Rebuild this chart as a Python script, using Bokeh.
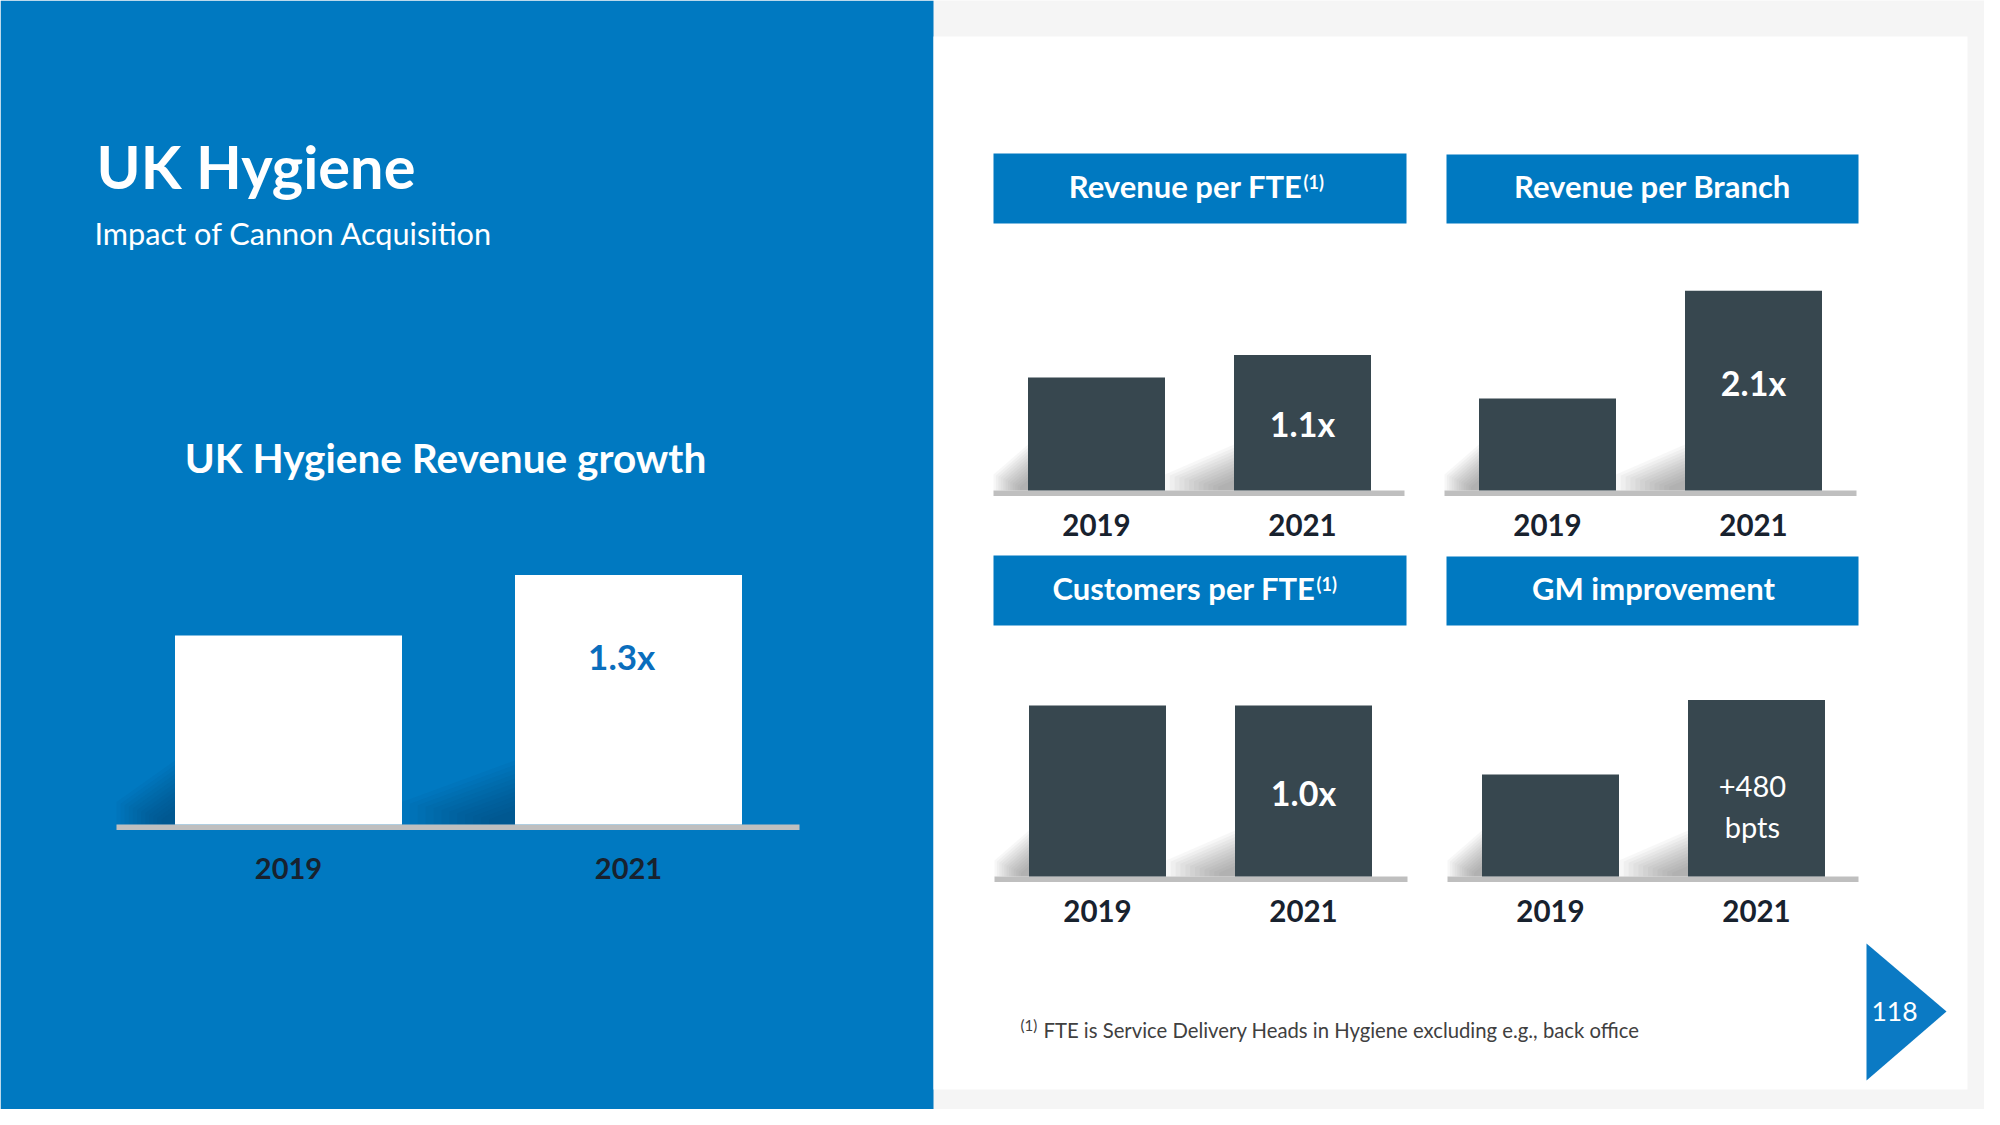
from bokeh.plotting import figure
from bokeh.models import Range1d
from bokeh.embed import file_html
from bokeh.resources import INLINE
from bokeh.core.properties import value

# ---------------- data ----------------
years = ["2019", "2021"]
uk_revenue_index = [100, 132]
rev_per_fte_index = [100, 120]
rev_per_branch_index = [100, 217]
cust_per_fte_index = [100, 100]
gm_index = [100, 173]

uk_label = "1.3x"
rev_fte_label = "1.1x"
rev_branch_label = "2.1x"
cust_fte_label = "1.0x"
gm_label_lines = ["+480", "bpts"]

title = "UK Hygiene"
subtitle = "Impact of Cannon Acquisition"
left_chart_title = "UK Hygiene Revenue growth"
panel_titles = ["Revenue per FTE", "Revenue per Branch", "Customers per FTE", "GM improvement"]
footnote = "FTE is Service Delivery Heads in Hygiene excluding e.g., back office"
page_number = "118"

# ---------------- style ----------------
BLUE = "#0079C1"
BAR_DARK = "#37474F"
BASE_GRAY = "#BFBFBF"
YEAR_COLOR = "#18222E"
FONT = value("Lato")
BASE_SHIFT = 0.38  # alphabetic baseline correction (fraction of font size)

# page frame (page coordinates, y downwards)
X0, X1, Y0, Y1 = 0, 1984, 0, 1109

p = figure(width=1984, height=1109, x_range=Range1d(X0, X1), y_range=Range1d(Y1, Y0),
           output_backend="svg", toolbar_location=None, min_border=0,
           x_axis_location=None, y_axis_location=None)
p.grid.visible = False
p.outline_line_color = None
p.background_fill_color = "#F5F5F5"
p.border_fill_color = "#F5F5F5"

# backgrounds
p.quad(left=[0], right=[933], top=[0], bottom=[1125], fill_color=BLUE, line_color=None)
p.quad(left=[933], right=[1967], top=[36], bottom=[1089], fill_color="white", line_color=None)


def txt(x, y, s, size, color, bold=False, align="left", xr="default"):
    p.text(x=[x], y=[y - BASE_SHIFT * size], text=[s], text_font=FONT,
           text_font_size=f"{size}px",
           text_font_style="bold" if bold else "normal", text_color=color,
           text_align=align, text_baseline="alphabetic", x_range_name=xr)


charts = [
    dict(name="uk", vals=uk_revenue_index, cx=288, dx=340, bw=227, yb=824, k=1.89,
         base=(116, 799), shadow_h=64, shadow_color="#00335C", bar_color="white",
         year_y=879, year_size=29),
    dict(name="rfte", vals=rev_per_fte_index, cx=1096, dx=206, bw=137, yb=490, k=1.13,
         base=(993, 1404), shadow_h=46, shadow_color="#606060", bar_color=BAR_DARK,
         year_y=536, year_size=29.5),
    dict(name="rbr", vals=rev_per_branch_index, cx=1547, dx=206, bw=137, yb=490, k=0.92,
         base=(1444, 1856), shadow_h=46, shadow_color="#606060", bar_color=BAR_DARK,
         year_y=536, year_size=29.5),
    dict(name="cfte", vals=cust_per_fte_index, cx=1097, dx=206, bw=137, yb=876, k=1.71,
         base=(994, 1407), shadow_h=46, shadow_color="#606060", bar_color=BAR_DARK,
         year_y=922, year_size=29.5),
    dict(name="gm", vals=gm_index, cx=1550, dx=206, bw=137, yb=876, k=1.02,
         base=(1447, 1858), shadow_h=46, shadow_color="#606060", bar_color=BAR_DARK,
         year_y=922, year_size=29.5),
]

for c in charts:
    n = c["name"]
    p.extra_x_ranges[n] = Range1d((X0 - c["cx"]) / c["dx"], (X1 - c["cx"]) / c["dx"])
    p.extra_y_ranges[n] = Range1d((c["yb"] - Y1) / c["k"], (c["yb"] - Y0) / c["k"])
    idx = list(range(len(c["vals"])))

    # soft shadows to the left of each bar
    xs, ys = [], []
    prev_right = c["base"][0]
    for i in idx:
        bl = c["cx"] + i * c["dx"] - c["bw"] / 2
        W = bl - prev_right
        H = c["shadow_h"]
        yb = c["yb"]
        for j in range(12):
            s = 1 - j * 0.07
            xs.append([bl, bl, bl - W * s, bl - W * s])
            ys.append([yb, yb - H * s, yb - H * 0.35 * s, yb])
        prev_right = bl + c["bw"]
    p.patches(xs=xs, ys=ys, fill_color=c["shadow_color"], fill_alpha=0.05, line_color=None)

    # baseline
    p.quad(left=[c["base"][0]], right=[c["base"][1]], top=[c["yb"]], bottom=[c["yb"] + 5.5],
           fill_color=BASE_GRAY, line_color=None)

    # bars
    p.vbar(x=idx, top=c["vals"], bottom=0, width=c["bw"] / c["dx"],
           fill_color=c["bar_color"], line_color=None,
           x_range_name=n, y_range_name=n)

    # category labels
    ys_lab = [c["year_y"] - BASE_SHIFT * c["year_size"]] * len(idx)
    p.text(x=idx, y=ys_lab, text=years, text_font=FONT,
           text_font_size=f'{c["year_size"]}px', text_font_style="bold",
           text_color=YEAR_COLOR, text_align="center", text_baseline="alphabetic",
           x_range_name=n)

# value labels inside 2021 bars
txt(0.98, 669, uk_label, 35, "#0A6EBD", bold=True, align="center", xr="uk")
txt(1, 436, rev_fte_label, 34, "white", bold=True, align="center", xr="rfte")
txt(1, 395, rev_branch_label, 34, "white", bold=True, align="center", xr="rbr")
txt(1, 805, cust_fte_label, 34, "white", bold=True, align="center", xr="cfte")
txt(0.98, 797, gm_label_lines[0], 29, "white", align="center", xr="gm")
txt(0.98, 837, gm_label_lines[1], 29, "white", align="center", xr="gm")

# left panel titles
txt(96, 188, title, 59.5, "white", bold=True)
txt(94, 245, subtitle, 30.7, "white")
txt(445, 472, left_chart_title, 40.5, "white", bold=True, align="center")

# header boxes
boxes = [(993, 1406, 153, 223), (1446, 1858, 154, 223), (993, 1406, 555, 625), (1446, 1858, 556, 625)]
p.quad(left=[b[0] for b in boxes], right=[b[1] for b in boxes],
       top=[b[2] for b in boxes], bottom=[b[3] for b in boxes],
       fill_color=BLUE, line_color=None)

txt(1302, 197, panel_titles[0], 31, "white", bold=True, align="right")
txt(1303, 188, "(1)", 18, "white", bold=True)
txt(1652, 197, panel_titles[1], 31, "white", bold=True, align="center")
txt(1315, 599, panel_titles[2], 31, "white", bold=True, align="right")
txt(1316, 590, "(1)", 18, "white", bold=True)
txt(1653, 599, panel_titles[3], 31, "white", bold=True, align="center")

# footnote
txt(1020, 1030, "(1)", 15, "#404040")
txt(1043, 1037, footnote, 20.3, "#404040")

# page number arrow
p.patch(x=[1866, 1946, 1866], y=[943, 1011, 1080], fill_color="#0B7AC4", line_color=None)
txt(1894, 1021, page_number, 26.5, "white", align="center")

open("out.html", "w").write(file_html(p, INLINE))
